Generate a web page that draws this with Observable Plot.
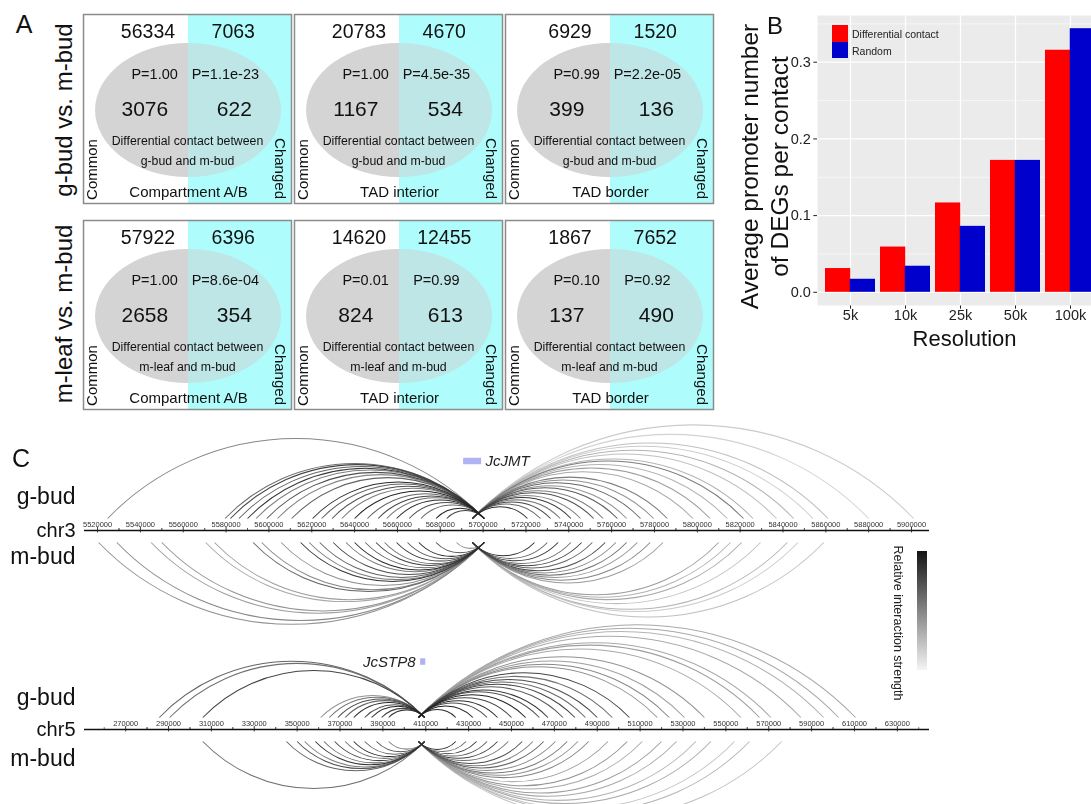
<!DOCTYPE html>
<html><head><meta charset="utf-8">
<script src="https://cdn.jsdelivr.net/npm/d3@7"></script>
<script src="https://cdn.jsdelivr.net/npm/@observablehq/plot@0.6"></script>
<style>
body{margin:0;background:#fff;}
#fig{position:relative;width:1091px;height:804px;overflow:hidden;background:#fff;font-family:"Liberation Sans",Arial,Helvetica,sans-serif;color:#111;}
.lab{position:absolute;white-space:nowrap;line-height:1;transform:translate(-50%,-50%);}
.layer{position:absolute;will-change:transform;}
</style></head><body><div id="fig"></div>
<script>
const FONT = '"Liberation Sans", Arial, Helvetica, sans-serif';

// ---------------- Panel A data ----------------
const comparisons = ["g-bud vs. m-bud", "m-leaf vs. m-bud"];
const pairText = ["g-bud and m-bud", "m-leaf and m-bud"];
const features = ["Compartment A/B", "TAD interior", "TAD border"];
const commonTotals = [[56334, 20783, 6929], [57922, 14620, 1867]];
const changedTotals = [[7063, 4670, 1520], [6396, 12455, 7652]];
const commonP = [["P=1.00", "P=1.00", "P=0.99"], ["P=1.00", "P=0.01", "P=0.10"]];
const changedP = [["P=1.1e-23", "P=4.5e-35", "P=2.2e-05"], ["P=8.6e-04", "P=0.99", "P=0.92"]];
const commonDiff = [[3076, 1167, 399], [2658, 824, 137]];
const changedDiff = [[622, 534, 136], [354, 613, 490]];

// ---------------- Panel B data ----------------
const resolutions = ["5k", "10k", "25k", "50k", "100k"];
const diffContact = [0.031, 0.059, 0.1165, 0.172, 0.3156];
const randomContact = [0.017, 0.034, 0.086, 0.172, 0.3437];
const seriesNames = ["Differential contact", "Random"];
const seriesColors = ["#ff0000", "#0000cd"];
const yTicksB = [0, 0.1, 0.2, 0.3];
const yMinorB = [0.05, 0.15, 0.25, 0.35];

// ---------------- Panel C data ----------------
const chr3Ticks = [5520000, 5540000, 5560000, 5580000, 5600000, 5620000, 5640000, 5660000, 5680000, 5700000, 5720000, 5740000, 5760000, 5780000, 5800000, 5820000, 5840000, 5860000, 5880000, 5900000];
const chr5Ticks = [270000, 290000, 310000, 330000, 350000, 370000, 390000, 410000, 430000, 450000, 470000, 490000, 510000, 530000, 550000, 570000, 590000, 610000, 630000];
const genes = ["JcJMT", "JcSTP8"];
const geneStart = [5690900, 407600];
const geneEnd = [5699300, 410000];

const chr3GbudPartners = [5524700, 5579500, 5582000, 5586000, 5590000, 5594000, 5599000, 5604000, 5610600, 5620400, 5624600, 5629500, 5634000, 5640000, 5646000, 5651000, 5655000, 5659600, 5665500, 5671000, 5678000, 5683000,
  5720700, 5726800, 5731500, 5736000, 5741000, 5745500, 5751600, 5756000, 5762700, 5767000, 5773500, 5779600, 5786000, 5798000, 5806000, 5814000, 5821600, 5826000, 5837000, 5845000, 5854000, 5861000, 5880000, 5901000];
const chr3GbudStrength = [0.45, 0.55, 0.75, 0.6, 0.8, 0.5, 0.7, 0.45, 0.6, 0.85, 0.6, 0.7, 0.5, 0.9, 0.6, 0.75, 0.55, 0.85, 0.7, 0.6, 0.9, 0.75,
  0.85, 0.6, 0.75, 0.5, 0.8, 0.45, 0.7, 0.5, 0.65, 0.4, 0.6, 0.4, 0.5, 0.3, 0.35, 0.25, 0.5, 0.25, 0.2, 0.25, 0.15, 0.2, 0.12, 0.15];
const chr3MbudPartners = [5520500, 5529000, 5545000, 5550000, 5570500, 5574600, 5592600, 5596600, 5605700, 5614800, 5618800, 5623700, 5630000, 5636000, 5640000, 5645000, 5650000, 5654000, 5659600, 5664700, 5670000, 5678000, 5687600,
  5724000, 5730000, 5735000, 5741000, 5746000, 5751000, 5757000, 5762000, 5767000, 5772000, 5778000, 5784000, 5810000, 5815500, 5820700, 5829500, 5842000, 5847000, 5859000];
const chr3MbudStrength = [0.4, 0.45, 0.35, 0.4, 0.3, 0.35, 0.6, 0.45, 0.4, 0.8, 0.5, 0.6, 0.7, 0.5, 0.85, 0.6, 0.75, 0.55, 0.8, 0.65, 0.85, 0.7, 0.4,
  0.85, 0.6, 0.8, 0.55, 0.75, 0.6, 0.7, 0.45, 0.55, 0.4, 0.45, 0.35, 0.35, 0.25, 0.3, 0.2, 0.25, 0.15, 0.2];
const chr5GbudPartners = [285700, 290500, 306000, 361000, 365000, 369000, 372400, 376400, 381500, 384700, 389400, 392700,
  424000, 432000, 438600, 443500, 450000, 456600, 463000, 467000, 474000, 479600, 484500, 490000, 497000, 505000, 518000, 523600, 530700, 540000, 557000, 565700, 571000, 585000, 595600, 602600, 610500];
const chr5GbudStrength = [0.6, 0.55, 0.75, 0.4, 0.55, 0.7, 0.6, 0.85, 0.7, 0.9, 0.75, 0.8,
  0.85, 0.9, 0.7, 0.85, 0.75, 0.9, 0.7, 0.8, 0.65, 0.75, 0.6, 0.7, 0.55, 0.75, 0.4, 0.45, 0.35, 0.4, 0.3, 0.35, 0.3, 0.3, 0.25, 0.3, 0.3];
const chr5MbudPartners = [306000, 345000, 350000, 353500, 358500, 362500, 367500, 372400, 376400, 381500, 387000, 392700,
  424000, 428800, 433700, 438600, 443500, 448500, 455000, 460000, 465000, 470500, 476000, 481000, 486000, 495000, 504000, 511000, 520000, 527000, 536000, 543000, 554000, 561000, 576000];
const chr5MbudStrength = [0.55, 0.6, 0.7, 0.5, 0.8, 0.6, 0.75, 0.55, 0.85, 0.6, 0.7, 0.5,
  0.85, 0.6, 0.8, 0.65, 0.75, 0.55, 0.7, 0.5, 0.6, 0.45, 0.5, 0.4, 0.45, 0.35, 0.4, 0.3, 0.35, 0.3, 0.25, 0.3, 0.2, 0.25, 0.2];

// ---------------- helpers ----------------
const fig = document.getElementById("fig");
const baseStyle = {background: "transparent", overflow: "visible", maxWidth: "none", fontFamily: FONT};
function place(node, left, top) {
  const d = document.createElement("div");
  d.className = "layer"; d.style.left = left + "px"; d.style.top = top + "px";
  d.appendChild(node); fig.appendChild(d); return d;
}
function label(text, x, y, size, rot = 0, extra = "") {
  const d = document.createElement("div");
  d.className = "lab"; d.textContent = text;
  d.style.cssText += `left:${x}px;top:${y}px;font-size:${size}px;transform:translate(-50%,-50%) rotate(${rot}deg);${extra}`;
  fig.appendChild(d); return d;
}

// ---------------- Panel A ----------------
function vennBox(r, c) {
  const t = (v, o) => Plot.text([v], {text: d => String(d), fill: "#111", fontFamily: FONT, ...o});
  return Plot.plot({
    width: 208, height: 189, margin: 0,
    x: {domain: [0, 1], axis: null},
    y: {domain: [0, 1], reverse: true, axis: null},
    style: baseStyle,
    marks: [
      Plot.rect([0], {x1: 0.505, x2: 1, y1: 0, y2: 1, fill: "#aefcfc"}),
      (index, scales) => {
        const cx = scales.x(0.505), cy = scales.y(0.508);
        const rx = scales.x(0.505 + 0.447) - cx, ry = scales.y(0.508 + 0.355) - cy;
        const g = d3.create("svg:g");
        g.append("path").attr("d", `M${cx},${cy - ry}A${rx},${ry} 0 0 0 ${cx},${cy + ry}Z`).attr("fill", "#d4d4d4");
        g.append("path").attr("d", `M${cx},${cy - ry}A${rx},${ry} 0 0 1 ${cx},${cy + ry}Z`).attr("fill", "#bee6e6");
        return g.node();
      },
      Plot.frame({stroke: "#8c8c8c", strokeWidth: 1.5}),
      t(commonTotals[r][c], {x: 0.31, y: 0.09, fontSize: 19.5}),
      t(changedTotals[r][c], {x: 0.72, y: 0.09, fontSize: 19.5}),
      t(commonP[r][c], {x: 0.342, y: 0.317, fontSize: 14.5}),
      t(changedP[r][c], {x: 0.682, y: 0.317, fontSize: 14.5}),
      t(commonDiff[r][c], {x: 0.295, y: 0.5, fontSize: 21}),
      t(changedDiff[r][c], {x: 0.725, y: 0.5, fontSize: 21}),
      t("Differential contact between", {x: 0.5, y: 0.67, fontSize: 12.3}),
      t(pairText[r], {x: 0.5, y: 0.776, fontSize: 12.3}),
      t(features[c], {x: 0.505, y: 0.94, fontSize: 15}),
      t("Common", {x: 0.043, y: 0.82, fontSize: 15, rotate: -90}),
      t("Changed", {x: 0.945, y: 0.815, fontSize: 15, rotate: 90})
    ]
  });
}
const boxLeft = [83, 294, 505], boxTop = [14, 219.5];
comparisons.forEach((cmp, r) => {
  features.forEach((f, c) => place(vennBox(r, c), boxLeft[c], boxTop[r]));
});
label("A", 24, 24, 25);
label(comparisons[0], 64, 109.5, 24, -90);
label(comparisons[1], 64, 314, 24, -90);

// ---------------- Panel B ----------------
const bW = 383, bML = 97;
const halfBand = (bW - bML) / 5.2 * 0.9 / 2;
const plotB = Plot.plot({
  width: bW, height: 360, marginLeft: bML, marginRight: 0, marginTop: 15, marginBottom: 55,
  x: {type: "band", domain: resolutions, paddingInner: 0.1, paddingOuter: 0.15, tickSize: 3.7, tickPadding: 1, label: null},
  y: {domain: [-0.0172, 0.3609], ticks: yTicksB, tickFormat: d3.format(".1f"), tickSize: 3.7, tickPadding: 3, label: null},
  style: {...baseStyle, fontSize: "14.5px", color: "#222"},
  marks: [
    Plot.frame({fill: "#ebebeb"}),
    Plot.ruleY(yMinorB, {stroke: "white", strokeWidth: 0.6}),
    Plot.ruleY(yTicksB, {stroke: "white", strokeWidth: 1.2}),
    Plot.ruleX(resolutions, {x: d => d, stroke: "white", strokeWidth: 1.2}),
    Plot.barY(resolutions, {x: d => d, y: (d, i) => diffContact[i], fill: seriesColors[0], insetRight: halfBand}),
    Plot.barY(resolutions, {x: d => d, y: (d, i) => randomContact[i], fill: seriesColors[1], insetLeft: halfBand}),
    Plot.text(["Average promoter number\nof DEGs per contact"], {text: d => d, frameAnchor: "left", textAnchor: "middle", lineAnchor: "middle", rotate: -90, dx: -54, dy: 6, fontSize: 24.5, lineHeight: 1.22, fill: "#111"}),
    Plot.text(["Resolution"], {text: d => d, frameAnchor: "bottom", textAnchor: "middle", dy: 40, dx: 4, fontSize: 22, fill: "#111"})
  ]
});
place(plotB, 720, 0);
label("B", 775, 26, 24);
seriesNames.forEach((name, i) => {
  const sw = document.createElement("div");
  sw.style.cssText = `position:absolute;left:832px;top:${25 + i * 16.5}px;width:16px;height:16.5px;background:${seriesColors[i]};`;
  fig.appendChild(sw);
  const tx = document.createElement("div");
  tx.style.cssText = `position:absolute;left:852px;top:${34 + i * 17}px;transform:translateY(-50%);font-size:10.5px;line-height:1;color:#222;white-space:nowrap;`;
  tx.textContent = name;
  fig.appendChild(tx);
});

// ---------------- Panel C ----------------
function arcMark(partners, strengths, leftEnd, rightStart, up) {
  const data = partners.map((p, i) => ({p, s: strengths[i]})).sort((a, b) => a.s - b.s);
  const yv = up ? 1 : -1;
  return Plot.arrow(data, {
    x1: d => d.p < leftEnd ? d.p : rightStart,
    x2: d => d.p < leftEnd ? leftEnd : d.p,
    y1: yv, y2: yv,
    bend: up ? 46 : -46, headLength: 0,
    stroke: "s", strokeWidth: 1.05, strokeLinecap: "butt"
  });
}
function chrPlot(o) {
  const minor = o.ticks.flatMap(t => [t - 10000, t + 10000]).filter(t => t > o.domain[0] && t < o.domain[1] && !o.ticks.includes(t));
  const gi = o.gene;
  return Plot.plot({
    width: 1091, height: o.height, marginLeft: 84, marginRight: 162, marginTop: o.mt, marginBottom: o.mb,
    x: {domain: o.domain, axis: null},
    y: {domain: [-1, 1], axis: null},
    color: {type: "linear", domain: [0, 1], range: ["#ededed", "#0a0a0a"]},
    style: {...baseStyle, color: "#111"},
    marks: [
      arcMark(o.gbud, o.gbudS, o.leftEnd, o.rightStart, true),
      arcMark(o.mbud, o.mbudS, o.leftEnd, o.rightStart, false),
      Plot.ruleY([0], {stroke: "#111", strokeWidth: 1.3}),
      Plot.ruleX(o.ticks, {x: d => d, y1: -0.2, y2: 0.25, stroke: "#222", strokeWidth: 0.9}),
      Plot.ruleX(minor, {x: d => d, y1: 0, y2: 0.15, stroke: "#444", strokeWidth: 0.8}),
      Plot.text(o.ticks, {x: d => d, y: 0, dy: -6, text: d => String(d), fontSize: 7.5, fill: "#333"}),
      Plot.text([o.chr], {text: d => d, frameAnchor: "left", y: 0, dx: -9, textAnchor: "end", fontSize: 20, fill: "#111"}),
      Plot.text(["g-bud"], {text: d => d, frameAnchor: "left", y: o.gy, dx: -9, textAnchor: "end", fontSize: 23, fill: "#111"}),
      Plot.text(["m-bud"], {text: d => d, frameAnchor: "left", y: o.my, dx: -9, textAnchor: "end", fontSize: 23, fill: "#111"}),
      Plot.rect([gi], {x1: i => geneStart[i], x2: i => geneEnd[i], y1: o.geneY - 0.27, y2: o.geneY + 0.27, fill: "#b0b2f2"}),
      Plot.text([gi], {x: i => o.labelRight ? geneEnd[i] : geneStart[i], y: o.geneY, dx: o.labelRight ? 4 : -5,
        textAnchor: o.labelRight ? "start" : "end", text: i => genes[i], fontSize: 15, fontStyle: "italic", fill: "#222"})
    ]
  });
}
place(chrPlot({
  chr: "chr3", domain: [5513900, 5908400], ticks: chr3Ticks, height: 200, mt: 98, mb: 78,
  gbud: chr3GbudPartners, gbudS: chr3GbudStrength, mbud: chr3MbudPartners, mbudS: chr3MbudStrength,
  leftEnd: 5700500, rightStart: 5695000, gy: 2.83, my: -2.17, gene: 0, geneY: 5.75, labelRight: true
}), 0, 420);
place(chrPlot({
  chr: "chr5", domain: [250800, 645000], ticks: chr5Ticks, height: 204, mt: 117, mb: 63,
  gbud: chr5GbudPartners, gbudS: chr5GbudStrength, mbud: chr5MbudPartners, mbudS: chr5MbudStrength,
  leftEnd: 409500, rightStart: 406600, gy: 2.67, my: -2.42, gene: 1, geneY: 5.62, labelRight: false
}), 0, 600);
label("C", 21, 458, 25);

// colour bar legend
const cb = document.createElement("div");
cb.style.cssText = "position:absolute;left:917px;top:551px;width:10px;height:119px;background:linear-gradient(to bottom,#141414,#f4f4f4);";
fig.appendChild(cb);
label("Relative interaction strength", 898, 623, 12.5, 90, "color:#222;");
</script></body></html>
